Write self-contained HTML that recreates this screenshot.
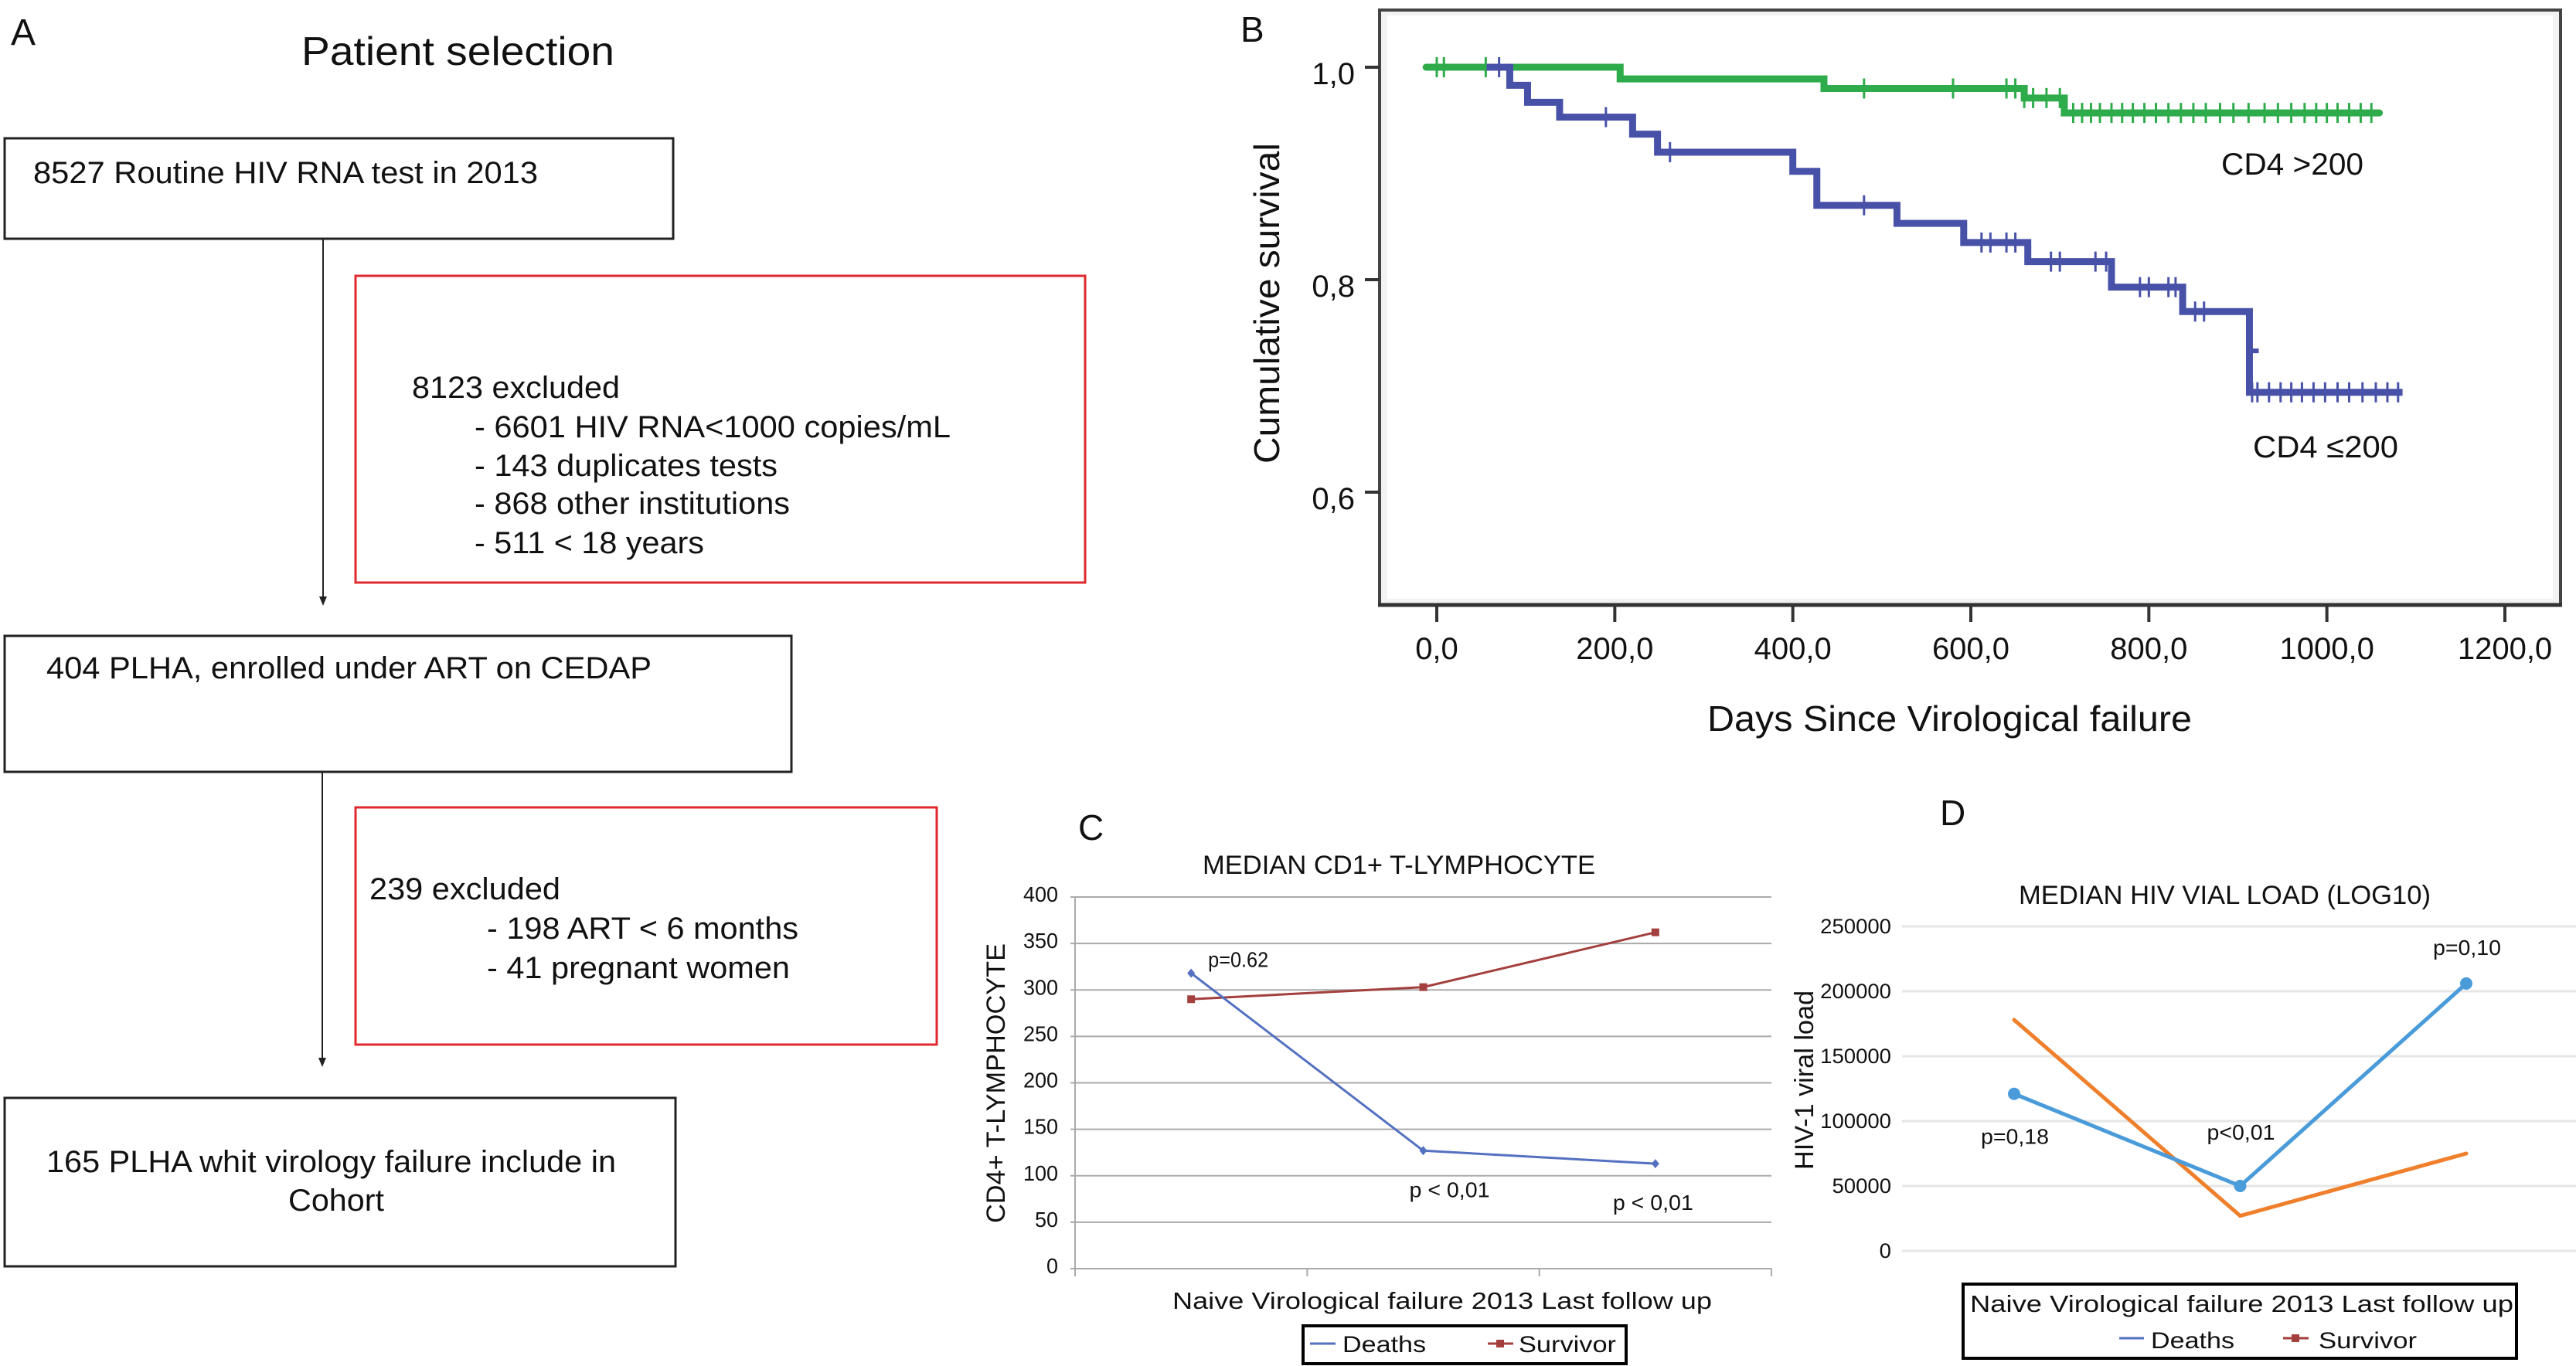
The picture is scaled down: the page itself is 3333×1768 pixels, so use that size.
<!DOCTYPE html>
<html><head><meta charset="utf-8">
<style>
html,body{margin:0;padding:0;background:#fff;}
svg{display:block;}
text{font-family:"Liberation Sans",sans-serif;fill:#111;}
</style></head>
<body>
<svg id="fig" width="3333" height="1768" viewBox="0 0 3333 1768" xmlns="http://www.w3.org/2000/svg">
<rect x="0" y="0" width="3333" height="1768" fill="#fff"/>
<!-- Panel A flowchart -->
<g>
  <text x="14" y="58" font-size="48">A</text>
  <text x="390" y="84" font-size="52" textLength="405" lengthAdjust="spacingAndGlyphs">Patient selection</text>
  <rect x="6" y="179" width="865" height="130" fill="none" stroke="#222" stroke-width="3"/>
  <text x="43" y="237" font-size="40" textLength="653" lengthAdjust="spacingAndGlyphs">8527 Routine HIV RNA test in 2013</text>
  <line x1="418" y1="309" x2="418" y2="775" stroke="#222" stroke-width="2"/>
  <polygon points="413,772 423,772 418,784" fill="#222"/>
  <rect x="460" y="357" width="944" height="397" fill="none" stroke="#e0282e" stroke-width="3"/>
  <text x="533" y="515" font-size="40" textLength="269" lengthAdjust="spacingAndGlyphs">8123 excluded</text>
  <text x="614" y="566" font-size="40" textLength="616" lengthAdjust="spacingAndGlyphs">- 6601 HIV RNA&lt;1000 copies/mL</text>
  <text x="614" y="616" font-size="40" textLength="392" lengthAdjust="spacingAndGlyphs">- 143 duplicates tests</text>
  <text x="614" y="665" font-size="40" textLength="408" lengthAdjust="spacingAndGlyphs">- 868 other institutions</text>
  <text x="614" y="716" font-size="40" textLength="297" lengthAdjust="spacingAndGlyphs">- 511 &lt; 18 years</text>
  <rect x="6" y="823" width="1018" height="176" fill="none" stroke="#222" stroke-width="3"/>
  <text x="60" y="878" font-size="40" textLength="783" lengthAdjust="spacingAndGlyphs">404 PLHA, enrolled under ART on CEDAP</text>
  <line x1="417" y1="999" x2="417" y2="1372" stroke="#222" stroke-width="2"/>
  <polygon points="412,1369 422,1369 417,1381" fill="#222"/>
  <rect x="460" y="1045" width="752" height="307" fill="none" stroke="#e0282e" stroke-width="3"/>
  <text x="478" y="1164" font-size="40" textLength="247" lengthAdjust="spacingAndGlyphs">239 excluded</text>
  <text x="630" y="1215" font-size="40" textLength="403" lengthAdjust="spacingAndGlyphs">- 198 ART &lt; 6 months</text>
  <text x="630" y="1266" font-size="40" textLength="392" lengthAdjust="spacingAndGlyphs">- 41 pregnant women</text>
  <rect x="6" y="1421" width="868" height="218" fill="none" stroke="#222" stroke-width="3"/>
  <text x="60" y="1517" font-size="40" textLength="737" lengthAdjust="spacingAndGlyphs">165 PLHA whit virology failure include in</text>
  <text x="373" y="1567" font-size="40" textLength="124" lengthAdjust="spacingAndGlyphs">Cohort</text>
</g>

<!-- Panel B -->
<g id="panelB">
  <text x="1605" y="54" font-size="46">B</text>
  <rect x="1785" y="13" width="1528" height="770" fill="#f2f2f2" stroke="#444" stroke-width="4"/>
  <rect x="1795" y="20" width="1508" height="755" fill="#fff"/>
  <text x="2209" y="946" font-size="46" textLength="627" lengthAdjust="spacingAndGlyphs">Days Since Virological failure</text>
  <text transform="translate(1655,600) rotate(-90)" x="0" y="0" font-size="46" textLength="415" lengthAdjust="spacingAndGlyphs">Cumulative survival</text>
  <text x="2874" y="226" font-size="40" textLength="184" lengthAdjust="spacingAndGlyphs">CD4 &gt;200</text>
  <text x="2915" y="592" font-size="40" textLength="188" lengthAdjust="spacingAndGlyphs">CD4 ≤200</text>
</g>

<!-- Panel C -->
<g id="panelC">
  <text x="1395" y="1087" font-size="46">C</text>
  <text x="1556" y="1131" font-size="34" textLength="508" lengthAdjust="spacingAndGlyphs">MEDIAN CD1+ T-LYMPHOCYTE</text>
  <text transform="translate(1300,1583) rotate(-90)" x="0" y="0" font-size="34" textLength="362" lengthAdjust="spacingAndGlyphs">CD4+ T-LYMPHOCYTE</text>
  <text x="1517" y="1694" font-size="31" textLength="698" lengthAdjust="spacingAndGlyphs">Naive  Virological  failure 2013  Last follow up</text>
  <rect x="1686" y="1716" width="418" height="49" fill="#fff" stroke="#000" stroke-width="4"/>
  <line x1="1695" y1="1739" x2="1728" y2="1739" stroke="#5470c0" stroke-width="3"/>
  <text x="1737" y="1750" font-size="30" textLength="108" lengthAdjust="spacingAndGlyphs">Deaths</text>
  <line x1="1925" y1="1739" x2="1958" y2="1739" stroke="#a33f3c" stroke-width="3"/>
  <rect x="1936" y="1734" width="10" height="10" fill="#a33f3c"/>
  <text x="1965" y="1750" font-size="30" textLength="126" lengthAdjust="spacingAndGlyphs">Survivor</text>
</g>

<!-- Panel D -->
<g id="panelD">
  <text x="2510" y="1068" font-size="46">D</text>
  <text x="2612" y="1170" font-size="34" textLength="533" lengthAdjust="spacingAndGlyphs">MEDIAN HIV VIAL LOAD (LOG10)</text>
  <text transform="translate(2346,1514) rotate(-90)" x="0" y="0" font-size="34" textLength="232" lengthAdjust="spacingAndGlyphs">HIV-1 viral load</text>
  <rect x="2540" y="1662" width="716" height="96" fill="#fff" stroke="#000" stroke-width="4"/>
  <text x="2549" y="1698" font-size="31" textLength="703" lengthAdjust="spacingAndGlyphs">Naive  Virological  failure 2013  Last follow up</text>
  <line x1="2742" y1="1732" x2="2774" y2="1732" stroke="#5470c0" stroke-width="3"/>
  <text x="2783" y="1745" font-size="30" textLength="108" lengthAdjust="spacingAndGlyphs">Deaths</text>
  <line x1="2954" y1="1732" x2="2987" y2="1732" stroke="#a33f3c" stroke-width="3"/>
  <rect x="2965" y="1727" width="10" height="10" fill="#a33f3c"/>
  <text x="3000" y="1745" font-size="30" textLength="127" lengthAdjust="spacingAndGlyphs">Survivor</text>
</g>
</svg>
<script>
// ---------- Panel B data ----------
const kmXTicks = [0, 200, 400, 600, 800, 1000, 1200];
const kmXTickLabels = ["0,0", "200,0", "400,0", "600,0", "800,0", "1000,0", "1200,0"];
const kmYTicks = [1.0, 0.8, 0.6];
const kmYTickLabels = ["1,0", "0,8", "0,6"];
const greenTimes = [-12, 206, 435, 660, 705];
const greenSurv = [1.0, 0.989, 0.98, 0.971, 0.957];
const greenEnd = 1059;
const greenCensor = [0, 8, 55, 480, 580, 640, 650, 660, 670, 685, 700, 715, 725, 735, 745, 758, 770, 782, 795, 808, 822, 836, 850, 864, 880, 895, 912, 930, 945, 960, 975, 988, 1000, 1012, 1025, 1038, 1050];
const blueTimes = [56, 82, 102, 138, 220, 248, 400, 427, 517, 592, 664, 758, 838, 913];
const blueSurv = [1.0, 0.983, 0.967, 0.953, 0.937, 0.92, 0.902, 0.87, 0.853, 0.835, 0.817, 0.793, 0.77, 0.694];
const blueEnd = 1085;
const blueCensor = [70, 190, 262, 480, 612, 622, 640, 650, 690, 700, 740, 752, 790, 800, 822, 830, 852, 862, 916, 922, 935, 948, 960, 972, 985, 998, 1012, 1025, 1040, 1055, 1068, 1080];
const blueCensorMid = [913];
const blueCensorMidVal = [0.733];

// ---------- Panel C data ----------
const cCategories = ["Naive", "Virological failure 2013", "Last follow up"];
const cYTicks = [0, 50, 100, 150, 200, 250, 300, 350, 400];
const cDeaths = [318, 127, 113];
const cSurvivor = [290, 303, 362];
const cPLabels = ["p=0.62", "p < 0,01", "p < 0,01"];

// ---------- Panel D data ----------
const dCategories = ["Naive", "Virological failure 2013", "Last follow up"];
const dYTicks = [0, 50000, 100000, 150000, 200000, 250000];
const dDeaths = [121000, 50000, 206000];
const dSurvivor = [178000, 27000, 75000];
const dPLabels = ["p=0,18", "p<0,01", "p=0,10"];

const NS = "http://www.w3.org/2000/svg";
function mk(tag, parent, attrs) {
  const el = document.createElementNS(NS, tag);
  for (const k in attrs) el.setAttribute(k, attrs[k]);
  parent.appendChild(el);
  return el;
}

// ===== Panel B =====
(function () {
  const g = document.getElementById("panelB");
  const xS = d => 1859 + d * (3241 - 1859) / 1200;
  const yS = v => 87 + (1 - v) * 1375;
  let ax = mk("line", g, {x1: 1783, y1: 783, x2: 3315, y2: 783, stroke: "#333", "stroke-width": 5});
  
  
  kmXTicks.forEach((t, i) => {
    const tk = mk("line", g, {x1: xS(t), y1: 783, x2: xS(t), y2: 805, stroke: "#333", "stroke-width": 4});
    
    
    const lb = mk("text", g, {x: xS(t), y: 853, "font-size": 40, "text-anchor": "middle"});
    lb.textContent = kmXTickLabels[i];
    
    
  });
  kmYTicks.forEach((t, i) => {
    const tk = mk("line", g, {x1: 1766, y1: yS(t), x2: 1785, y2: yS(t), stroke: "#333", "stroke-width": 4});
    
    
    const lb = mk("text", g, {x: 1753, y: yS(t) + 22, "font-size": 40, "text-anchor": "end"});
    lb.textContent = kmYTickLabels[i];
    
    
  });
  function stepPath(times, surv, end) {
    let d = "M" + xS(times[0]) + " " + yS(surv[0]);
    for (let i = 1; i < times.length; i++) {
      d += " H" + xS(times[i]) + " V" + yS(surv[i]);
    }
    d += " H" + xS(end);
    return d;
  }
  function survAt(times, surv, t) {
    let v = surv[0];
    for (let i = 0; i < times.length; i++) if (t >= times[i]) v = surv[i];
    return v;
  }
  const gp = mk("path", g, {d: stepPath(greenTimes, greenSurv, greenEnd), fill: "none", stroke: "#2eab4a", "stroke-width": 9, "stroke-linecap": "round"});
  
  
  greenCensor.forEach(t => {
    const y = yS(survAt(greenTimes, greenSurv, t));
    const c = mk("line", g, {x1: xS(t), y1: y - 13, x2: xS(t), y2: y + 13, stroke: "#2eab4a", "stroke-width": 3});
    
    
  });
  const bp = mk("path", g, {d: stepPath(blueTimes, blueSurv, blueEnd), fill: "none", stroke: "#4851a8", "stroke-width": 9, "stroke-linecap": "butt"});
  
  
  blueCensor.forEach(t => {
    const y = yS(survAt(blueTimes, blueSurv, t));
    const c = mk("line", g, {x1: xS(t), y1: y - 13, x2: xS(t), y2: y + 13, stroke: "#4851a8", "stroke-width": 3});
    
    
  });
  blueCensorMid.forEach((t, i) => {
    const y = yS(blueCensorMidVal[i]);
    const c = mk("line", g, {x1: xS(t) - 1, y1: y, x2: xS(t) + 12, y2: y, stroke: "#4851a8", "stroke-width": 6});
    
    
  });
})();

// ===== Panel C =====
(function () {
  const g = document.getElementById("panelC");
  const left = 1391, right = 2292;
  const yS = v => 1642 - v * (1642 - 1161) / 400;
  const bw = (right - left) / cCategories.length;
  const xS = i => left + bw * (i + 0.5);
  cYTicks.forEach(t => {
    const gl = mk("line", g, {x1: left - 6, y1: yS(t), x2: right, y2: yS(t), stroke: "#aaa", "stroke-width": 2});
    
    
    const lb = mk("text", g, {x: 1369, y: yS(t) + 6, "font-size": 28, "text-anchor": "end", textLength: String(t).length * 15, lengthAdjust: "spacingAndGlyphs"});
    lb.textContent = t;
    
    
  });
  const ya = mk("line", g, {x1: left, y1: 1161, x2: left, y2: 1650, stroke: "#aaa", "stroke-width": 2});
  
  
  for (let i = 0; i <= cCategories.length; i++) {
    const tk = mk("line", g, {x1: left + bw * i, y1: 1642, x2: left + bw * i, y2: 1652, stroke: "#aaa", "stroke-width": 2});
    
    
  }
  const sp = mk("polyline", g, {points: cSurvivor.map((v, i) => xS(i) + "," + yS(v)).join(" "), fill: "none", stroke: "#a33f3c", "stroke-width": 3});
  
  
  cSurvivor.forEach((v, i) => {
    const m = mk("rect", g, {x: xS(i) - 5, y: yS(v) - 5, width: 10, height: 10, fill: "#a33f3c"});
    
    
  });
  const dp = mk("polyline", g, {points: cDeaths.map((v, i) => xS(i) + "," + yS(v)).join(" "), fill: "none", stroke: "#5470c0", "stroke-width": 3});
  
  
  cDeaths.forEach((v, i) => {
    const m = mk("polygon", g, {points: [xS(i), yS(v) - 6, xS(i) + 5, yS(v), xS(i), yS(v) + 6, xS(i) - 5, yS(v)].join(","), fill: "#5470c0"});
    
    
  });
  const pPos = [[xS(0) + 22, yS(cDeaths[0]) - 8], [xS(1) - 18, yS(cDeaths[1]) + 60], [xS(2) - 55, yS(cDeaths[2]) + 60]];
  cPLabels.forEach((p, i) => {
    const t = mk("text", g, {x: pPos[i][0], y: pPos[i][1], "font-size": 28, textLength: p.length * 13, lengthAdjust: "spacingAndGlyphs"});
    t.textContent = p;
    
    
  });
})();

// ===== Panel D =====
(function () {
  const g = document.getElementById("panelD");
  const left = 2461, right = 3333;
  const yS = v => 1619 - v * (1619 - 1199) / 250000;
  const catX = [2606, 2900, 3191];
  const span = catX[2] - catX[0];
  const xS = i => catX[0] + i * span / (dCategories.length - 1);
  dYTicks.forEach(t => {
    const gl = mk("line", g, {x1: left, y1: yS(t), x2: right, y2: yS(t), stroke: "#e6e6e6", "stroke-width": 3});
    
    
    const s = String(t);
    const lb = mk("text", g, {x: 2447, y: yS(t) + 9, "font-size": 27, "text-anchor": "end", textLength: s.length * 15.3, lengthAdjust: "spacingAndGlyphs", fill: "#222"});
    lb.textContent = s;
    
    
  });
  const sp = mk("polyline", g, {points: dSurvivor.map((v, i) => xS(i) + "," + yS(v)).join(" "), fill: "none", stroke: "#f07f2c", "stroke-width": 5, "stroke-linecap": "round"});
  
  
  const dp = mk("polyline", g, {points: dDeaths.map((v, i) => xS(i) + "," + yS(v)).join(" "), fill: "none", stroke: "#4a9bd9", "stroke-width": 5});
  
  
  dDeaths.forEach((v, i) => {
    const m = mk("circle", g, {cx: xS(i), cy: yS(v), r: 8, fill: "#4a9bd9"});
    
    
  });
  const pPos = [[xS(0) - 43, yS(dDeaths[0]) + 65], [xS(1) - 43, yS(dDeaths[1]) - 60], [xS(2) - 43, yS(dDeaths[2]) - 37]];
  dPLabels.forEach((p, i) => {
    const t = mk("text", g, {x: pPos[i][0], y: pPos[i][1], "font-size": 28, textLength: 88, lengthAdjust: "spacingAndGlyphs"});
    t.textContent = p;
    
    
  });
})();
</script>
</body></html>
